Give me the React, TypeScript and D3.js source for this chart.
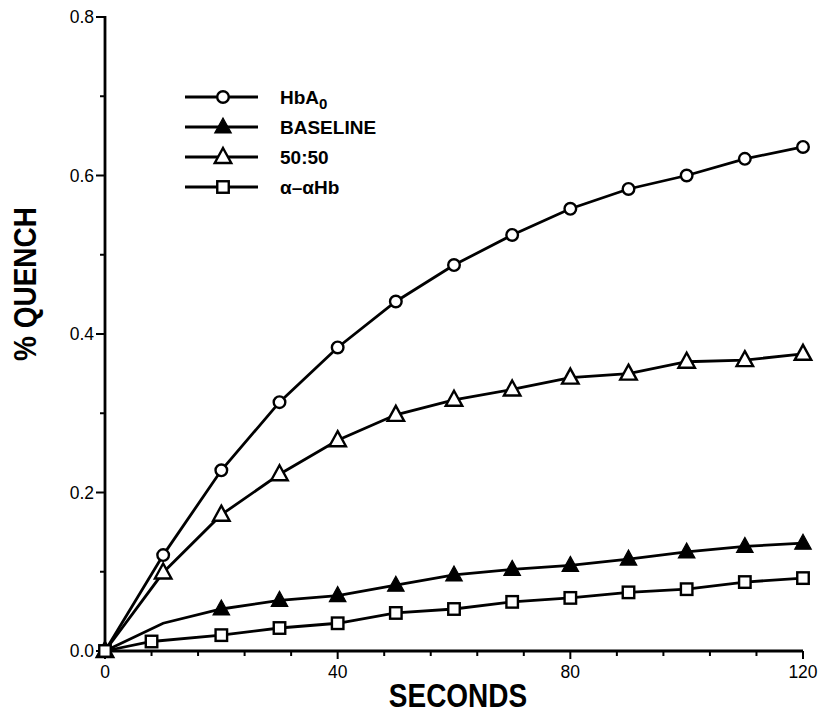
import React from "react";
import * as d3 from "d3";

const seconds = [0, 10, 20, 30, 40, 50, 60, 70, 80, 90, 100, 110, 120];
const alphaSeconds = [0, 8, 20, 30, 40, 50, 60, 70, 80, 90, 100, 110, 120];
const hba0 = [0, 0.121, 0.228, 0.314, 0.383, 0.441, 0.487, 0.525, 0.558, 0.583, 0.6, 0.621, 0.636];
const baseline = [0, 0.035, 0.053, 0.064, 0.07, 0.083, 0.096, 0.103, 0.108, 0.116, 0.125, 0.132, 0.136];
const fifty = [0, 0.099, 0.172, 0.223, 0.266, 0.298, 0.317, 0.33, 0.345, 0.35, 0.365, 0.367, 0.375];
const alphaHb = [0, 0.012, 0.02, 0.029, 0.035, 0.048, 0.053, 0.062, 0.067, 0.074, 0.078, 0.087, 0.092];
const baselineHiddenMarkers = [1];

const xMajorTicks = [0, 40, 80, 120];
const xMinorTicks = d3.range(0, 121, 8);
const yMajorTicks = [0, 0.2, 0.4, 0.6, 0.8];
const yMinorTicks = d3.range(0, 0.81, 0.1);

const legendLabels = ["HbA", "BASELINE", "50:50", "α–αHb"];

const FONT = "'Liberation Sans', Arial, Helvetica, sans-serif";

type Kind = "circle" | "filledTri" | "openTri" | "square";

function Marker({ kind, cx, cy }: { kind: Kind; cx: number; cy: number }) {
  if (kind === "circle") {
    return <circle cx={cx} cy={cy} r={5.8} fill="#fff" stroke="#000" strokeWidth={2.4} />;
  }
  if (kind === "square") {
    const s = 11.5;
    return <rect x={cx - s / 2} y={cy - s / 2} width={s} height={s} fill="#fff" stroke="#000" strokeWidth={2.4} />;
  }
  const w = 16.5, h = 15;
  const d = `M${cx},${cy - h * 0.6} L${cx + w / 2},${cy + h * 0.4} L${cx - w / 2},${cy + h * 0.4} Z`;
  if (kind === "filledTri") return <path d={d} fill="#000" stroke="#000" strokeWidth={1.2} strokeLinejoin="miter" />;
  return <path d={d} fill="#fff" stroke="#000" strokeWidth={2.4} strokeLinejoin="miter" />;
}

export default function App() {
  const x = d3.scaleLinear().domain([0, 120]).range([105, 803]);
  const y = d3.scaleLinear().domain([0, 0.8]).range([651, 17]);

  const series: { xs: number[]; ys: number[]; kind: Kind; hidden: number[] }[] = [
    { xs: seconds, ys: hba0, kind: "circle", hidden: [] },
    { xs: seconds, ys: fifty, kind: "openTri", hidden: [] },
    { xs: seconds, ys: baseline, kind: "filledTri", hidden: baselineHiddenMarkers },
    { xs: alphaSeconds, ys: alphaHb, kind: "square", hidden: [] },
  ];

  const line = d3
    .line<[number, number]>()
    .x((d) => x(d[0]))
    .y((d) => y(d[1]));

  const legendKinds: Kind[] = ["circle", "filledTri", "openTri", "square"];
  const legendY = [97, 127, 157, 187];

  return (
    <svg
      width={822}
      height={714}
      style={{ position: "absolute", left: 0, top: 0, background: "#fff" }}
      fontFamily={FONT}
    >
      <rect x={0} y={0} width={822} height={714} fill="#fff" />
      {/* axes */}
      <line x1={x(0)} x2={x(120)} y1={y(0)} y2={y(0)} stroke="#000" strokeWidth={2.8} />
      <line x1={x(0)} x2={x(0)} y1={y(0) + 1} y2={y(0.8) - 1} stroke="#000" strokeWidth={2.8} />
      {xMinorTicks.map((t) => (
        <line key={"xm" + t} x1={x(t)} x2={x(t)} y1={y(0)} y2={y(0) + (xMajorTicks.includes(t) ? 8 : 5)} stroke="#000" strokeWidth={2} />
      ))}
      {yMinorTicks.map((t, i) => (
        <line key={"ym" + i} x1={x(0)} x2={x(0) - (i % 2 === 0 ? 9 : 5)} y1={y(t)} y2={y(t)} stroke="#000" strokeWidth={2} />
      ))}
      {yMajorTicks.map((t) => (
        <text key={"yl" + t} x={x(0) - 11} y={y(t)} dy="0.36em" textAnchor="end" fontSize={17.5}>
          {t.toFixed(1)}
        </text>
      ))}
      {xMajorTicks.map((t) => (
        <text key={"xl" + t} x={x(t)} y={y(0) + 27} textAnchor="middle" fontSize={17.5}>
          {t}
        </text>
      ))}
      <text transform="translate(458,707) scale(1,1.18)" textAnchor="middle" fontSize={28} fontWeight="bold">
        SECONDS
      </text>
      <text transform="translate(36,284) rotate(-90) scale(1,1.1)" textAnchor="middle" fontSize={28} fontWeight="bold">
        % QUENCH
      </text>

      {/* lines */}
      {series.map((s, i) => (
        <path
          key={"l" + i}
          d={line(s.xs.map((v, j) => [v, s.ys[j]] as [number, number])) || ""}
          fill="none"
          stroke="#000"
          strokeWidth={2.8}
        />
      ))}
      {/* markers */}
      {series.map((s, i) =>
        s.xs.map((v, j) =>
          s.hidden.includes(j) ? null : <Marker key={`m${i}-${j}`} kind={s.kind} cx={x(v)} cy={y(s.ys[j])} />
        )
      )}

      {/* legend */}
      {legendKinds.map((k, i) => (
        <g key={"lg" + i}>
          <line x1={185} x2={258} y1={legendY[i]} y2={legendY[i]} stroke="#000" strokeWidth={2.8} />
          <Marker kind={k} cx={223} cy={legendY[i]} />
          <text x={280} y={legendY[i]} dy="0.36em" fontSize={19} fontWeight="bold">
            {legendLabels[i]}
            {i === 0 ? (
              <tspan dy={5} fontSize={15}>
                0
              </tspan>
            ) : null}
          </text>
        </g>
      ))}
    </svg>
  );
}
